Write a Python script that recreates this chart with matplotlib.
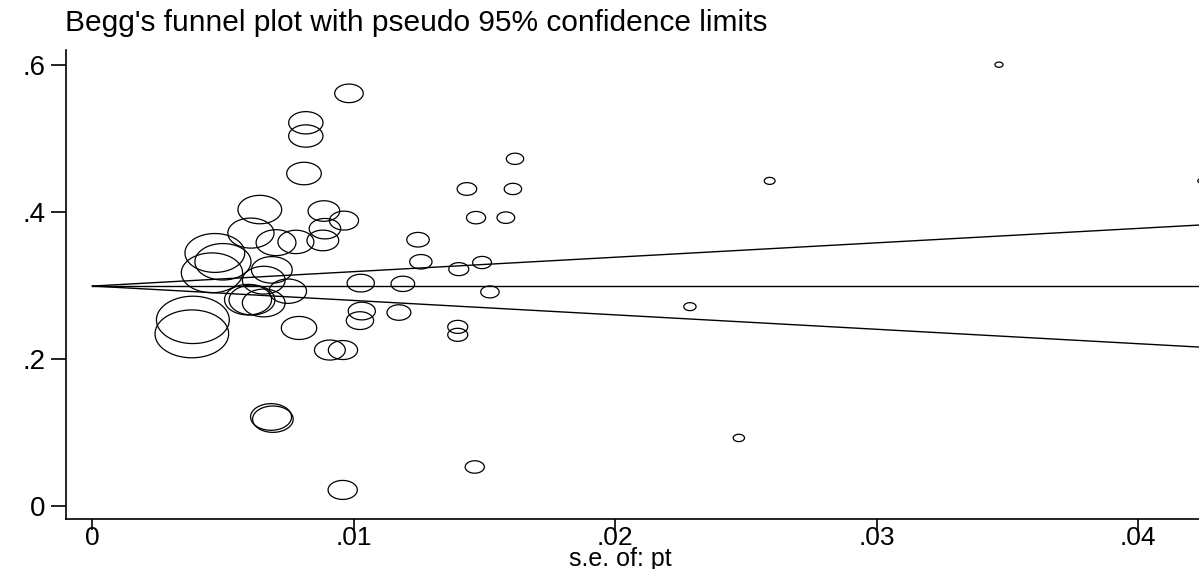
import numpy as np
import matplotlib
matplotlib.use("Agg")
import matplotlib.pyplot as plt
from matplotlib.path import Path

plt.rcParams['font.family'] = ['Liberation Sans', 'DejaVu Sans']

# standard errors (x) and effect sizes (y)
se = [0.03467, 0.0259, 0.0424, 0.02285, 0.02472,
      0.01616, 0.01432, 0.01608, 0.01467, 0.01581,
      0.01245, 0.01256, 0.01401, 0.0149, 0.01187,
      0.0152, 0.01172, 0.01397, 0.01397, 0.01462,
      0.00981, 0.00816, 0.00816, 0.00809, 0.0064,
      0.00885, 0.00962, 0.00889, 0.00881, 0.00606,
      0.00702, 0.00778, 0.00468, 0.00499, 0.00457,
      0.00686, 0.00655, 0.00747, 0.00595, 0.0061,
      0.00655, 0.00384, 0.0038, 0.0079, 0.0103,
      0.01023, 0.00908, 0.00958, 0.01026, 0.00683,
      0.0069, 0.00957]
pt = [0.600, 0.442, 0.442, 0.271, 0.0925,
      0.472, 0.431, 0.431, 0.392, 0.392,
      0.362, 0.332, 0.322, 0.331, 0.302,
      0.291, 0.263, 0.2435, 0.2327, 0.053,
      0.561, 0.521, 0.503, 0.452, 0.403,
      0.401, 0.388, 0.377, 0.361, 0.371,
      0.358, 0.359, 0.344, 0.332, 0.317,
      0.321, 0.307, 0.292, 0.2805, 0.280,
      0.276, 0.253, 0.234, 0.242, 0.265,
      0.252, 0.212, 0.212, 0.303, 0.121,
      0.118, 0.0218]
theta = 0.299          # pooled estimate
se_max = 0.0425

xticks = [0, 0.01, 0.02, 0.03, 0.04]
xtick_labels = ['0', '.01', '.02', '.03', '.04']
yticks = [0, 0.2, 0.4, 0.6]
ytick_labels = ['0', '.2', '.4', '.6']

se = np.array(se)
pt = np.array(pt)

# elliptical hollow marker (the original image is stretched horizontally)
t = np.linspace(0, 2 * np.pi, 60)
ell = Path(np.column_stack([np.cos(t), 0.65 * np.sin(t)]), closed=True)

sizes = (0.2016 / se) ** 2   # marker area ~ weight = 1/se^2

fig = plt.figure(figsize=(11.99, 5.69), dpi=100)
ax = fig.add_axes([0.0551, 0.0879, 0.9449, 0.8243])

se_line = np.array([0, se_max])
ax.plot(se_line, theta + 1.96 * se_line, color='black', lw=1.0)
ax.plot(se_line, theta - 1.96 * se_line, color='black', lw=1.0)
ax.plot(se_line, theta + 0 * se_line, color='black', lw=1.0)

ax.scatter(se, pt, s=sizes, marker=ell, facecolors='none',
           edgecolors='black', linewidths=0.9, clip_on=True)

ax.set_xlim(-0.00101, 0.04232)
ax.set_ylim(-0.0177, 0.620)
ax.set_xticks(xticks)
ax.set_xticklabels(xtick_labels)
ax.set_yticks(yticks)
ax.set_yticklabels(ytick_labels)
ax.tick_params(axis='both', direction='out', width=1.2, labelsize=20)
ax.tick_params(axis='x', length=8, pad=-3, labelsize=19)
ax.tick_params(axis='y', length=11, pad=4)

ax.spines['top'].set_visible(False)
ax.spines['right'].set_visible(False)
ax.spines['left'].set_linewidth(1.2)
ax.spines['bottom'].set_linewidth(1.2)

fig.text(0.517, 0.005, 's.e. of: pt', fontsize=18, ha='center', va='baseline')
fig.text(0.054, 0.96, "Begg's funnel plot with pseudo 95% confidence limits",
         fontsize=21.5, ha='left', va='center')

fig.savefig('out.png', dpi=100, facecolor='white')
